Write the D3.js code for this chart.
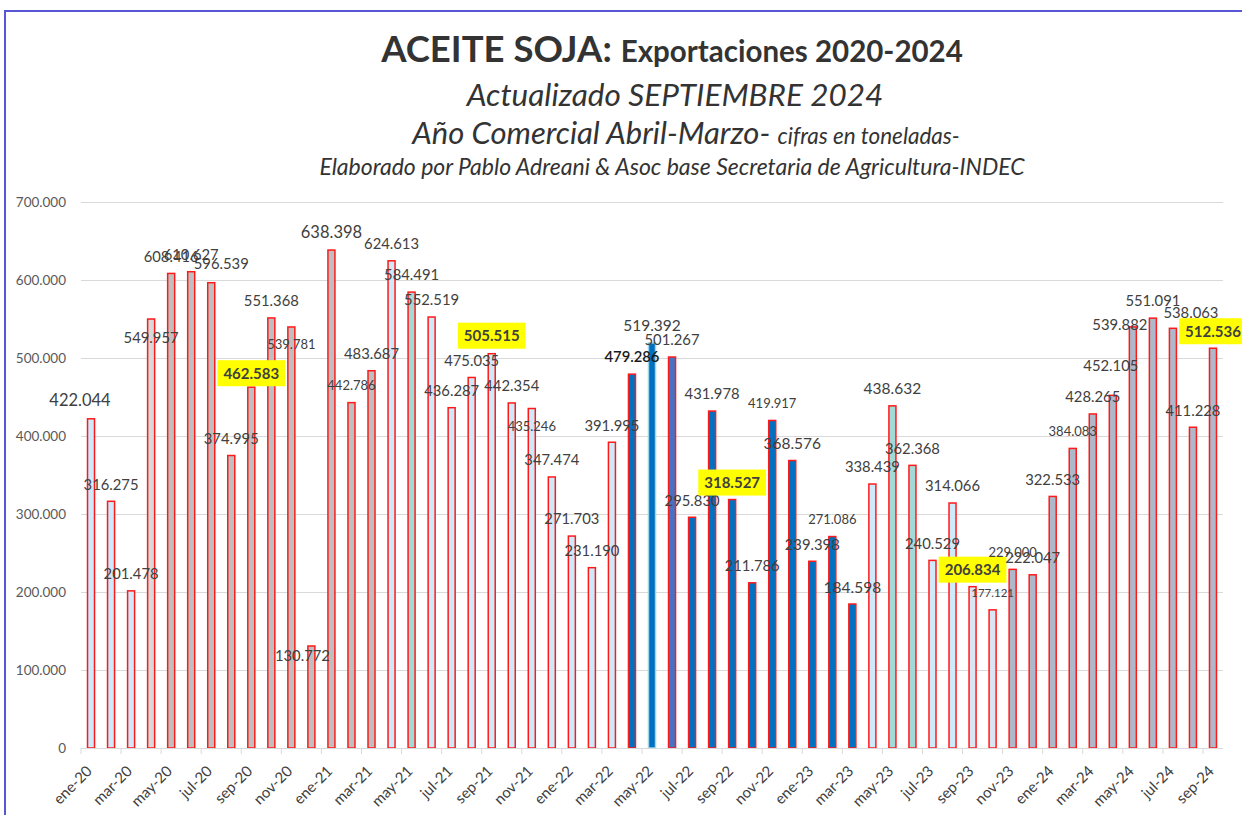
<!DOCTYPE html>
<html lang="es">
<head>
<meta charset="utf-8">
<title>Aceite soja: exportaciones 2020-2024</title>
<script src="https://cdn.jsdelivr.net/npm/d3@7"></script>
<style>
  body { margin: 0; background: #fff; }
  svg { display: block; font-family: Lato, "Open Sans", sans-serif; }
</style>
</head>
<body>
<svg id="chart" width="1242" height="815"></svg>
<script>
// Meses (categorías del eje X)
var meses = [
	"ene-20", "feb-20", "mar-20", "abr-20", "may-20", "jun-20", "jul-20", "ago-20", "sep-20", "oct-20", "nov-20", "dic-20",
	"ene-21", "feb-21", "mar-21", "abr-21", "may-21", "jun-21", "jul-21", "ago-21", "sep-21", "oct-21", "nov-21", "dic-21",
	"ene-22", "feb-22", "mar-22", "abr-22", "may-22", "jun-22", "jul-22", "ago-22", "sep-22", "oct-22", "nov-22", "dic-22",
	"ene-23", "feb-23", "mar-23", "abr-23", "may-23", "jun-23", "jul-23", "ago-23", "sep-23", "oct-23", "nov-23", "dic-23",
	"ene-24", "feb-24", "mar-24", "abr-24", "may-24", "jun-24", "jul-24", "ago-24", "sep-24"
];

// Exportaciones mensuales en toneladas
var toneladas = [
	422044, 316275, 201478, 549957, 608416, 610627, 596539, 374995, 462583, 551368, 539781, 130772,
	638398, 442786, 483687, 624613, 584491, 552519, 436287, 475035, 505515, 442354, 435246, 347474,
	271703, 231190, 391995, 479286, 519392, 501267, 295830, 431978, 318527, 211786, 419917, 368576,
	239398, 271086, 184598, 338439, 438632, 362368, 240529, 314066, 206834, 177121, 229000, 222047,
	322533, 384083, 428265, 452105, 539882, 551091, 538063, 411228, 512536
];

// Marcas del eje Y
var ticksY = [0, 100000, 200000, 300000, 400000, 500000, 600000, 700000];

// Rótulos del eje X (uno de cada dos meses)
var rotulosX = meses.filter(function (m, i) { return i % 2 === 0; });

// Meses con el valor resaltado en amarillo
var destacados = ["sep-20", "sep-21", "sep-22", "sep-23", "sep-24"];

// ---- estilos ----
var colorClaro = "#cde9fa";
var colorGris = "#bfbfbf";
var colorAzul = "#0070c0";
var colorGrisAzul = "#adb9ca";
var coloresEspeciales = {
	"abr-20": "#d9d9d9",
	"may-21": "#a3d9d7",
	"jun-22": "#4472c4",
	"may-23": "#a3d9d7",
	"jun-23": "#a3d9d7",
	"sep-23": "#dae5f3",
	"oct-23": "#dae5f3"
};

function colorBarra(m, i) {
	if (coloresEspeciales[m]) return coloresEspeciales[m];
	if (i < 3) return colorClaro;
	if (i < 15) return colorGris;
	if (i < 27) return colorClaro;
	if (i < 39) return colorAzul;
	if (i < 46) return colorClaro;
	return colorGrisAzul;
}

// Ajustes de los rótulos de valor (desplazamiento respecto al tope de la barra)
var ajustes = {
	"ene-20": { dx: -11, dy: -19, size: 16.5 },
	"abr-20": { dy: 19 },
	"jul-20": { dx: 10, dy: -19 },
	"sep-20": { dy: -14 },
	"nov-20": { dy: 17, size: 13 },
	"dic-20": { dx: -9, dy: 10 },
	"ene-21": { dy: -18, size: 16.5 },
	"feb-21": { size: 13 },
	"sep-21": { dy: -18 },
	"nov-21": { dy: 18, size: 13 },
	"may-22": { size: 15.5 },
	"nov-22": { size: 13 },
	"dic-22": { size: 15.5 },
	"feb-23": { size: 13 },
	"mar-23": { size: 15.5 },
	"may-23": { size: 15.5 },
	"oct-23": { size: 11.5 },
	"nov-23": { size: 13 },
	"feb-24": { size: 13 },
	"abr-24": { dx: -2, dy: -30 },
	"may-24": { dx: -13, dy: -2 },
	"jul-24": { dx: 18, dy: -16 }
};

var local = d3.formatLocale({ decimal: ",", thousands: ".", grouping: [3], currency: ["$", ""] });
var fmt = local.format(",.0f");

var svg = d3.select("#chart");

svg.append("rect").attr("width", 1242).attr("height", 815).attr("fill", "#fff");

// Marco del gráfico
svg.append("path")
	.attr("d", "M5,815V11H1242")
	.attr("fill", "none")
	.attr("stroke", "#5757d6")
	.attr("stroke-width", 2);

// Títulos
var titulo = svg.append("text").attr("x", 672).attr("y", 62).attr("text-anchor", "middle")
	.attr("fill", "#333").attr("font-weight", "bold");
titulo.append("tspan").attr("font-size", 36.5).text("ACEITE SOJA: ");
titulo.append("tspan").attr("font-size", 29.5).text("Exportaciones 2020-2024");

svg.append("text").attr("x", 675).attr("y", 106).attr("text-anchor", "middle")
	.attr("fill", "#333").attr("font-style", "italic").attr("font-size", 31.5)
	.text("Actualizado SEPTIEMBRE 2024");

var linea3 = svg.append("text").attr("x", 686).attr("y", 144).attr("text-anchor", "middle")
	.attr("fill", "#333").attr("font-style", "italic");
linea3.append("tspan").attr("font-size", 31).text("Año Comercial Abril-Marzo- ");
linea3.append("tspan").attr("font-size", 22.5).text("cifras en toneladas-");

svg.append("text").attr("x", 672).attr("y", 175).attr("text-anchor", "middle")
	.attr("fill", "#333").attr("font-style", "italic").attr("font-size", 23)
	.text("Elaborado por Pablo Adreani & Asoc base Secretaria de Agricultura-INDEC");

// Escalas
var x = d3.scaleBand().domain(meses).range([81, 1223]).paddingInner(0.65).paddingOuter(0.325);
var y = d3.scaleLinear().domain([0, 700000]).range([748, 202]);

// Líneas de la grilla y rótulos del eje Y
var ejeY = svg.append("g")
	.attr("transform", "translate(81,0)")
	.call(d3.axisLeft(y).tickValues(ticksY).tickSize(-1142).tickPadding(15).tickFormat(fmt));
ejeY.select(".domain").remove();
ejeY.selectAll(".tick line").attr("stroke", "#d9d9d9");
ejeY.selectAll(".tick text").attr("fill", "#595959").attr("font-size", 13.5)
	.attr("font-family", "Lato, 'Open Sans', sans-serif");

// Barras
svg.append("g").selectAll("rect")
	.data(meses)
	.enter()
	.append("rect")
	.attr("x", function (m) { return x(m); })
	.attr("y", function (m, i) { return y(toneladas[i]); })
	.attr("width", x.bandwidth())
	.attr("height", function (m, i) { return y(0) - y(toneladas[i]); })
	.attr("fill", colorBarra)
	.attr("stroke", function (m) { return m === "may-22" ? "#9ed6ea" : "#ff1a1a"; })
	.attr("stroke-width", 1.5);

// Eje X con marcas cada dos meses
var paso = x.step();
var inicio = x(meses[0]) - x.paddingOuter() * paso;
var ejeX = svg.append("g");
ejeX.append("line").attr("x1", 81).attr("x2", 1223).attr("y1", 748.5).attr("y2", 748.5)
	.attr("stroke", "#d9d9d9");
ejeX.selectAll("line.marca")
	.data(d3.range(0, meses.length + 1, 2))
	.enter()
	.append("line")
	.attr("class", "marca")
	.attr("x1", function (k) { return inicio + k * paso; })
	.attr("x2", function (k) { return inicio + k * paso; })
	.attr("y1", 748).attr("y2", 754)
	.attr("stroke", "#d9d9d9");

ejeX.selectAll("text")
	.data(rotulosX)
	.enter()
	.append("text")
	.attr("transform", function (m) {
		return "translate(" + (x(m) + x.bandwidth() / 2 + 2) + ",772) rotate(-45)";
	})
	.attr("text-anchor", "end")
	.attr("fill", "#404040")
	.attr("font-size", 15)
	.text(function (m) { return m; });

// Rótulos de valores
var rotulos = svg.append("g").selectAll("g")
	.data(meses)
	.enter()
	.append("g")
	.attr("transform", function (m, i) {
		var a = ajustes[m] || {};
		var cx = x(m) + x.bandwidth() / 2 + (a.dx || 0);
		var cy = y(toneladas[i]) + (a.dy == null ? -17 : a.dy);
		return "translate(" + cx + "," + cy + ")";
	});

rotulos.each(function (m, i) {
	var gr = d3.select(this);
	var a = ajustes[m] || {};
	var resaltado = destacados.indexOf(m) >= 0;
	var size = a.size || (resaltado ? 15 : 14.8);
	var caja = resaltado ? gr.append("rect") : null;
	var t = gr.append("text")
		.attr("text-anchor", "middle")
		.attr("y", size * 0.36)
		.attr("font-size", size)
		.attr("fill", m === "abr-22" ? "#1a1a1a" : "#404040")
		.attr("font-weight", resaltado ? "bold" : (m === "abr-22" ? 600 : null))
		.text(fmt(toneladas[i]));
	if (caja) {
		var w = t.node().getComputedTextLength() + 12;
		caja.attr("x", -w / 2).attr("y", -13).attr("width", w).attr("height", 26)
			.attr("fill", "#ffff00");
	}
});
</script>
</body>
</html>
